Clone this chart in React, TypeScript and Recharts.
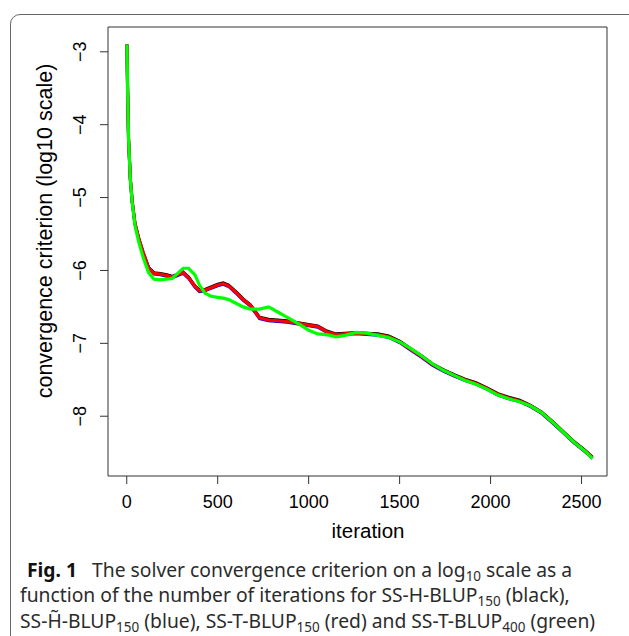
import { LineChart, Line, XAxis, YAxis, ReferenceArea } from "recharts";

const iterations = [
  1, 5, 10, 20, 30, 45, 65, 90, 120, 150, 185, 220, 250, 280, 310, 340, 375, 400, 430, 460, 500, 530, 560, 600, 640,
  680, 730, 780, 830, 880, 950, 1000, 1050, 1100, 1150, 1200, 1260, 1320, 1380, 1440, 1500, 1560, 1620, 1680, 1740,
  1800, 1860, 1920, 1980, 2040, 2100, 2160, 2220, 2280, 2340, 2400, 2460, 2520, 2560,
];

// SS-H-BLUP150 (black)
const ssHBlack = [
  -2.9, -3.55, -4.21, -4.76, -5.06, -5.36, -5.56, -5.76, -5.96, -6.03, -6.04, -6.06, -6.08, -6.05, -6.02, -6.09, -6.21,
  -6.27, -6.26, -6.23, -6.19, -6.17, -6.2, -6.29, -6.39, -6.47, -6.64, -6.67, -6.68, -6.69, -6.72, -6.74, -6.76, -6.83,
  -6.87, -6.86, -6.85, -6.86, -6.87, -6.9, -6.97, -7.07, -7.17, -7.28, -7.36, -7.43, -7.49, -7.54, -7.61, -7.69, -7.74,
  -7.78, -7.85, -7.94, -8.07, -8.21, -8.35, -8.47, -8.56,
];
// SS-H~-BLUP150 (blue)
const ssHtBlue = [
  -2.9, -3.55, -4.2, -4.75, -5.05, -5.35, -5.55, -5.75, -5.96, -6.05, -6.06, -6.08, -6.1, -6.07, -6.04, -6.11, -6.23,
  -6.29, -6.28, -6.25, -6.21, -6.19, -6.22, -6.31, -6.41, -6.49, -6.66, -6.69, -6.7, -6.71, -6.74, -6.76, -6.78, -6.85,
  -6.89, -6.88, -6.87, -6.88, -6.89, -6.92, -6.99, -7.09, -7.19, -7.3, -7.38, -7.45, -7.51, -7.56, -7.63, -7.71, -7.76,
  -7.8, -7.87, -7.96, -8.09, -8.23, -8.37, -8.49, -8.58,
];
// SS-T-BLUP150 (red)
const ssTRed = [
  -2.9, -3.55, -4.2, -4.75, -5.05, -5.35, -5.55, -5.75, -5.97, -6.04, -6.05, -6.07, -6.09, -6.06, -6.03, -6.1, -6.22,
  -6.28, -6.27, -6.24, -6.2, -6.18, -6.21, -6.3, -6.4, -6.48, -6.65, -6.68, -6.69, -6.7, -6.73, -6.75, -6.77, -6.84,
  -6.88, -6.87, -6.86, -6.87, -6.88, -6.91, -6.98, -7.08, -7.18, -7.29, -7.37, -7.44, -7.5, -7.55, -7.62, -7.7, -7.75,
  -7.79, -7.86, -7.95, -8.08, -8.22, -8.36, -8.48, -8.57,
];
// SS-T-BLUP400 (green)
const ssT400Green = [
  -2.9, -3.55, -4.2, -4.76, -5.07, -5.38, -5.6, -5.82, -6.03, -6.12, -6.13, -6.12, -6.11, -6.04, -5.97, -5.97, -6.06,
  -6.2, -6.31, -6.35, -6.37, -6.38, -6.4, -6.45, -6.5, -6.53, -6.53, -6.5, -6.57, -6.64, -6.74, -6.82, -6.87, -6.88,
  -6.91, -6.89, -6.85, -6.86, -6.89, -6.92, -6.98, -7.07, -7.17, -7.28, -7.37, -7.44, -7.51, -7.56, -7.63, -7.71, -7.76,
  -7.8, -7.86, -7.95, -8.08, -8.22, -8.36, -8.48, -8.58,
];

const xTicks = [0, 500, 1000, 1500, 2000, 2500];
const yTicks = [-8, -7, -6, -5, -4, -3];

const data = iterations.map((it, i) => ({
  iter: it,
  black: ssHBlack[i],
  blue: ssHtBlue[i],
  red: ssTRed[i],
  green: ssT400Green[i],
}));

const axisFont = "'Liberation Sans', Arial, sans-serif";

const XTick = (props: any) => {
  const { x, y, payload } = props;
  return (
    <text x={x} y={y + 24} textAnchor="middle" fontSize={18} fontFamily={axisFont} fill="#000">
      {payload.value}
    </text>
  );
};

const YTick = (props: any) => {
  const { x, y, payload } = props;
  const label = String(payload.value).replace("-", "\u2212");
  const bx = x - 13.5;
  return (
    <text x={bx} y={y} transform={`rotate(-90 ${bx} ${y})`} textAnchor="middle" fontSize={18} fontFamily={axisFont} fill="#000">
      {label}
    </text>
  );
};

const capStyle: React.CSSProperties = {
  position: "absolute",
  left: 20,
  width: 620,
  fontFamily: "'Noto Sans', 'Open Sans', sans-serif",
  fontSize: 19.3,
  color: "#2b2b2b",
  whiteSpace: "nowrap",
  lineHeight: "25px",
  height: 25,
};

const Sub = ({ children }: { children: React.ReactNode }) => (
  <span style={{ fontSize: 13.5, position: "relative", top: 4 }}>{children}</span>
);

export default function App() {
  return (
    <div style={{ position: "absolute", left: 0, top: 0, width: 629, height: 636, background: "#fff", overflow: "hidden" }}>
      <div
        style={{
          position: "absolute",
          left: 10,
          top: 14,
          width: 660,
          height: 660,
          border: "1px solid #666",
          borderTopLeftRadius: 10,
        }}
      />
      <LineChart
        width={629}
        height={636}
        data={data}
        margin={{ top: 27, right: 22, left: 48, bottom: 100 }}
        style={{ position: "absolute", left: 0, top: 0 }}
      >
        <XAxis
          dataKey="iter"
          type="number"
          domain={[-103, 2640]}
          ticks={xTicks}
          allowDataOverflow
          axisLine={false}
          tickLine={{ stroke: "#333" }}
          tickSize={8}
          tickMargin={0}
          height={60}
          tick={<XTick />}
          label={(p: any) => (
            <text x={368} y={p.viewBox.y + 62} textAnchor="middle" fontSize={20.5} fontFamily={axisFont} fill="#000">
              iteration
            </text>
          )}
        />
        <YAxis
          type="number"
          domain={[-8.82, -2.66]}
          ticks={yTicks}
          allowDataOverflow
          axisLine={false}
          tickLine={{ stroke: "#333" }}
          tickSize={8}
          tickMargin={0}
          width={60}
          tick={<YTick />}
          label={() => (
            <text x={52} y={231} transform="rotate(-90 52 231)" textAnchor="middle" fontSize={21.5} fontFamily={axisFont} fill="#000">
              convergence criterion (log10 scale)
            </text>
          )}
        />
        <ReferenceArea x1={-103} x2={2640} y1={-8.82} y2={-2.66} fill="none" stroke="#333" strokeWidth={1} />
        <Line type="linear" dataKey="black" stroke="#000000" strokeWidth={3} dot={false} isAnimationActive={false} />
        <Line type="linear" dataKey="blue" stroke="#0000ff" strokeWidth={3} dot={false} isAnimationActive={false} />
        <Line type="linear" dataKey="red" stroke="#ff0000" strokeWidth={3.2} dot={false} isAnimationActive={false} />
        <Line type="linear" dataKey="green" stroke="#00ff00" strokeWidth={3.2} dot={false} isAnimationActive={false} />
      </LineChart>
      <div style={{ ...capStyle, top: 557, left: 27 }}>
        <b style={{ color: "#111" }}>Fig. 1</b>&nbsp;&nbsp; The solver convergence criterion on a log<Sub>10</Sub> scale as a
      </div>
      <div style={{ ...capStyle, top: 582 }}>
        function of the number of iterations for SS-H-BLUP<Sub>150</Sub> (black),
      </div>
      <div style={{ ...capStyle, top: 607.5 }}>
        SS-H&#771;-BLUP<Sub>150</Sub> (blue), SS-T-BLUP<Sub>150</Sub> (red) and SS-T-BLUP<Sub>400</Sub> (green)
      </div>
    </div>
  );
}
